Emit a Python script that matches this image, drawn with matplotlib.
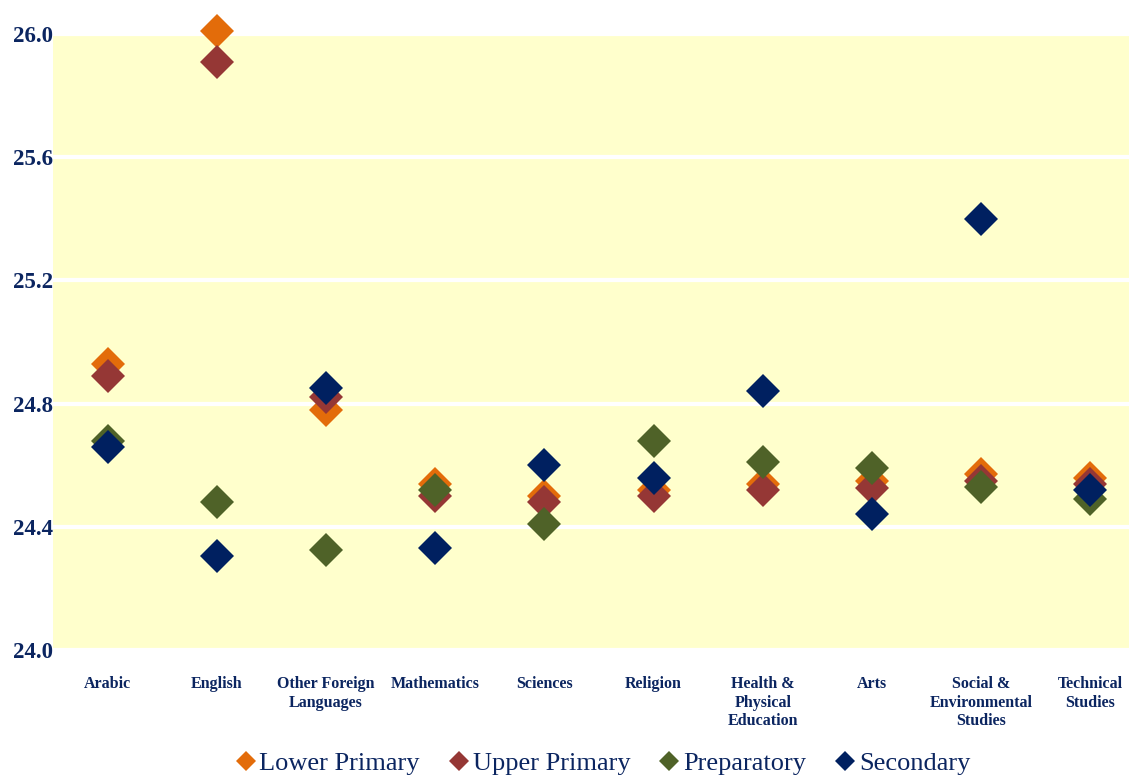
## Import Required Library

import matplotlib.pyplot as plt

## Create Data

subjects = ["Arabic", "English", "Other Foreign\nLanguages", "Mathematics",
            "Sciences", "Religion", "Health &\nPhysical\nEducation", "Arts",
            "Social &\nEnvironmental\nStudies", "Technical\nStudies"]

lower_primary = [24.93, 26.01, 24.78, 24.54, 24.50, 24.52, 24.54, 24.55, 24.57, 24.56]
upper_primary = [24.89, 25.91, 24.82, 24.50, 24.48, 24.50, 24.52, 24.525, 24.55, 24.54]
preparatory = [24.68, 24.48, 24.325, 24.52, 24.41, 24.68, 24.61, 24.59, 24.53, 24.49]
secondary = [24.66, 24.305, 24.85, 24.33, 24.60, 24.56, 24.84, 24.44, 25.40, 24.52]

series_names = ["Lower Primary", "Upper Primary", "Preparatory", "Secondary"]
series_values = [lower_primary, upper_primary, preparatory, secondary]
series_colors = ["#E36C0A", "#953735", "#4F6228", "#002060"]

y_ticks = [24.0, 24.4, 24.8, 25.2, 25.6, 26.0]

text_color = "#0B2560"

## Create Figure

plt.rcParams["font.family"] = ["Liberation Serif", "DejaVu Serif"]

fig = plt.figure(figsize=(11.29, 7.76), dpi=100)
ax = fig.add_axes([53 / 1129, 126 / 776, 1092 / 1129, 616 / 776])
ax.set_facecolor("#FFFFCC")

## Draw Points

x = list(range(len(subjects)))
for name, values, color in zip(series_names, series_values, series_colors):
    ax.plot(x, values, linestyle="none", marker="D", markersize=17,
            color=color, markeredgewidth=0, label=name, clip_on=False,
            zorder=3)

## Axes Styling

ax.set_xlim(-0.5, len(subjects) - 0.5)
ax.set_ylim(24.0, 26.0)
ax.set_yticks(y_ticks)
ax.set_yticklabels([f"{v:.1f}" for v in y_ticks], fontsize=16.5,
                   fontweight="bold", color=text_color)
ax.set_xticks(x)
ax.set_xticklabels(subjects, fontsize=11.5, fontweight="bold",
                   color=text_color, linespacing=1.18)
ax.tick_params(axis="both", length=0)
ax.tick_params(axis="x", pad=19)
ax.tick_params(axis="y", pad=0)

ax.grid(axis="y", color="white", linewidth=3)
ax.set_axisbelow(True)
for spine in ax.spines.values():
    spine.set_visible(False)

## Legend

fig.legend(loc="center", bbox_to_anchor=(601 / 1129, 13 / 776), ncol=4,
           frameon=False, fontsize=19, handletextpad=0.0,
           columnspacing=0.95, markerscale=0.6, labelcolor=text_color,
           handlelength=1.05)

## Save Chart

fig.savefig("out.png", dpi=100)
